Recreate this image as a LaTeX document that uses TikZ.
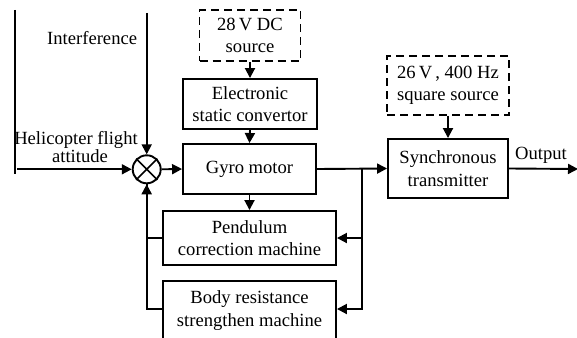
\documentclass[tikz,border=0pt]{standalone}
\usepackage{fontspec}
\setmainfont{Liberation Serif}
\usetikzlibrary{arrows.meta}
\begin{document}
\begin{tikzpicture}[x=1pt,y=-1pt,line width=1.9pt,
  font=\fontsize{18.6}{22.5}\selectfont,
  box/.style={draw,rectangle,align=center,inner sep=0pt},
  dbox/.style={box,dash pattern=on 8pt off 5pt},
  arr/.style={-{Triangle[length=10pt,width=10pt]}},
  lbl/.style={inner sep=0pt,align=center}]
\useasboundingbox (0,0) rectangle (577,337);
\clip (0,0) rectangle (577,337);
% nodes
\node[dbox,minimum width=101pt,minimum height=51pt] (dc) at (250,35.5) {28\,V DC\\source};
\node[box,minimum width=134pt,minimum height=50pt] (esc) at (250,104) {Electronic\\static convertor};
\node[box,minimum width=133pt,minimum height=50pt] (gyro) at (249.5,169) {Gyro motor};
\node[dbox,minimum width=122pt,minimum height=59pt] (sq) at (448,85.5) {26\,V\,, 400 Hz\\square source};
\node[box,minimum width=120pt,minimum height=59pt] (st) at (448,168.5) {Synchronous\\transmitter};
\node[box,minimum width=173pt,minimum height=54pt] (pend) at (249.5,238) {Pendulum\\correction machine};
\node[box,minimum width=173pt,minimum height=62pt,text depth=0pt] (body) at (249.5,312) {};
\node[lbl] (bodyt) at (249.5,310.5) {Body resistance\\strengthen machine};
\node[draw,circle,minimum size=28pt,inner sep=0pt] (sum) at (146.7,169.3) {};
\draw[line width=1.6pt] (sum.45) -- (sum.225) (sum.135) -- (sum.315);
% labels
\node[lbl,anchor=east] (intl) at (138,38) {Interference};
\node[lbl] (hfa) at (76,140) {Helicopter flight};
\node[lbl] (att) at (80,156) {attitude};
\node[lbl] (outl) at (541,155) {Output};
% coordinates
\coordinate (lt) at (15,10);
\coordinate (lb) at (15,174);
\coordinate (inl) at (17,169.3);
\coordinate (intt) at (146.7,13);
\coordinate (j) at (362,169);
\coordinate (jb) at (362,309);
\coordinate (outr) at (578,169);
% connectors
\draw (lt) -- (lb);
\draw[arr] (inl) -- (sum.west);
\draw[arr] (intt) -- (sum.north);
\draw[arr] (sum.east) -- (gyro.west);
\draw[arr] (dc.south) -- (esc.north);
\draw[arr] (esc.south) -- (gyro.north);
\draw[arr] (gyro.south) -- (pend.north);
\draw[arr] (gyro.east) -- (st.west);
\draw[arr] (sq.south) -- (st.north);
\draw[arr] (st.east) -- (outr);
\draw[arr] (j) |- (pend.east);
\draw[arr] (j) -- (jb) -- (body.east |- jb);
\draw[arr] (pend.west) -| (sum.south);
\draw (body.west |- jb) -| (sum.south);
\end{tikzpicture}
\end{document}
